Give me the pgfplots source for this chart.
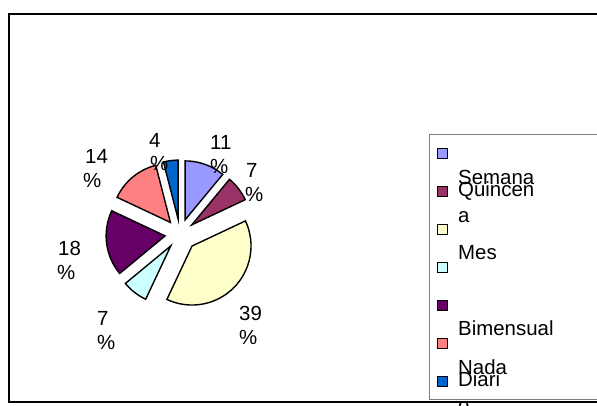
\documentclass[border=0pt]{standalone}
\usepackage{pgfplots}
\usepackage{pgfplotstable}
\pgfplotsset{compat=1.18}
\usepackage{fontspec}
\setmainfont{Liberation Sans}
\definecolor{cA}{HTML}{9999FF}
\definecolor{cB}{HTML}{993366}
\definecolor{cC}{HTML}{FFFFCC}
\definecolor{cD}{HTML}{CCFFFF}
\definecolor{cE}{HTML}{660066}
\definecolor{cF}{HTML}{FF8080}
\definecolor{cG}{HTML}{0066CC}
\pgfplotstableread{
label      pct ex col
Semana     11  15 cA
Quincena   7   15 cB
Mes        39  17 cC
Otro       7   15 cD
Bimensual  18  15 cE
Nada       14  15 cF
Diario     4   15 cG
}\piedata
\begin{document}
\begin{tikzpicture}
\fontsize{20.5}{24}\selectfont
\begin{axis}[width=597bp,height=406bp,scale only axis,
  xmin=0,xmax=597,ymin=0,ymax=406,y dir=reverse,
  axis lines=none,clip=false]
% frame and legend box
\draw[black,line width=1.3bp] (axis cs:9,14) rectangle (axis cs:620,402);
\draw[gray,line width=0.8bp,fill=white] (axis cs:429,134) rectangle (axis cs:620,399);
% pie slices
\def\startang{90}
\pgfplotsforeachungrouped \i in {0,...,6}{%
  \pgfplotstablegetelem{\i}{pct}\of\piedata \let\slicepct\pgfplotsretval
  \pgfplotstablegetelem{\i}{ex}\of\piedata \let\sliceex\pgfplotsretval
  \pgfplotstablegetelem{\i}{col}\of\piedata \let\slicecol\pgfplotsretval
  \pgfmathsetmacro\endang{\startang-3.6*\slicepct}
  \pgfmathsetmacro\midang{(\startang+\endang)/2}
  \pgfmathsetmacro\legy{153+38.1*\i}
  \edef\slice{\noexpand\filldraw[fill=\slicecol,draw=black,line width=1.4bp,line join=miter]
    ([shift={(\midang:\sliceex bp)}]axis cs:180,234) -- ++(\startang:59bp)
    arc[start angle=\startang,end angle=\endang,radius=59bp] -- cycle;
    \noexpand\filldraw[fill=\slicecol,draw=black,line width=1bp]
    (axis cs:437,\legy-5) rectangle (axis cs:447,\legy+5);}%
  \slice
  \let\startang\endang
}
% pie labels
\node[anchor=base west,inner sep=0] at (axis cs:210,149) {11};
\node[anchor=base west,inner sep=0] at (axis cs:210,173) {\%};
\node[anchor=base west,inner sep=0] at (axis cs:246,177) {7};
\node[anchor=base west,inner sep=0] at (axis cs:245,201.5) {\%};
\node[anchor=base west,inner sep=0] at (axis cs:239,320) {39};
\node[anchor=base west,inner sep=0] at (axis cs:239,344.5) {\%};
\node[anchor=base west,inner sep=0] at (axis cs:97,325) {7};
\node[anchor=base west,inner sep=0] at (axis cs:97,349.5) {\%};
\node[anchor=base west,inner sep=0] at (axis cs:58,255) {18};
\node[anchor=base west,inner sep=0] at (axis cs:57,279.5) {\%};
\node[anchor=base west,inner sep=0] at (axis cs:85,163) {14};
\node[anchor=base west,inner sep=0] at (axis cs:83,187.5) {\%};
\node[anchor=base west,inner sep=0] at (axis cs:149,147) {4};
\node[anchor=base west,inner sep=0] at (axis cs:150,170) {\%};
% legend texts
\node[anchor=base west,inner sep=0] at (axis cs:458,184) {Semana};
\node[anchor=base west,inner sep=0] at (axis cs:458,196) {Quincen};
\node[anchor=base west,inner sep=0] at (axis cs:458,222) {a};
\node[anchor=base west,inner sep=0] at (axis cs:458,259) {Mes};
\node[anchor=base west,inner sep=0] at (axis cs:458,335) {Bimensual};
\node[anchor=base west,inner sep=0] at (axis cs:458,374) {Nada};
\node[anchor=base west,inner sep=0] at (axis cs:458,386) {Diari};
\node[anchor=base west,inner sep=0] at (axis cs:458,412) {o};
\end{axis}
\pgfresetboundingbox
\path (0,0) rectangle (597bp,406bp);
\end{tikzpicture}
\end{document}
